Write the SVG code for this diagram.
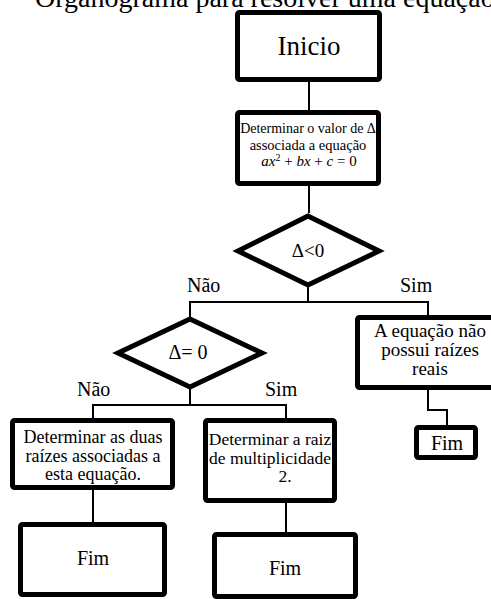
<svg xmlns="http://www.w3.org/2000/svg" width="491" height="599" viewBox="0 0 491 599">
<style>
.box{fill:#fff;stroke:#000;stroke-width:5;stroke-linejoin:round}
.dia{fill:#fff;stroke:#000;stroke-width:5;stroke-linejoin:miter}
.con{fill:none;stroke:#000;stroke-width:2}
text{font-family:"Liberation Serif","Times New Roman",serif;fill:#000}
.c{text-anchor:middle}
.m{font-style:italic}
</style>
<rect width="491" height="599" fill="#fff"/>
<text x="35" y="7" font-size="28">Organograma para resolver uma equação</text>
<g id="connectors">
<polyline class="con" points="309,82 309,110"/>
<polyline class="con" points="309,186 309,213"/>
<polyline class="con" points="308,287 308,302"/>
<polyline class="con" points="190,317 190,302 428,302 428,315"/>
<polyline class="con" points="190,389 190,405"/>
<polyline class="con" points="93,418 93,405 286,405 286,418"/>
<polyline class="con" points="93,490 93,522"/>
<polyline class="con" points="286,503 286,532"/>
<polyline class="con" points="428,390 428,410 447,410 447,425"/>
</g>
<g id="inicio">
<rect class="box" x="237.5" y="12.5" width="142" height="67" rx="2"/>
<text class="c" x="309" y="55" font-size="27">Inicio</text>
</g>
<g id="delta">
<rect class="box" x="237.5" y="112.5" width="141" height="71" rx="2"/>
<text class="c" x="308" y="133" font-size="14">Determinar o valor de Δ</text>
<text class="c" x="308" y="150" font-size="14.5">associada a equação</text>
<text class="c" x="309" y="166" font-size="15"><tspan class="m">ax</tspan><tspan font-size="10" dy="-5">2</tspan><tspan dy="5"> + </tspan><tspan class="m">bx</tspan> + <tspan class="m">c</tspan> = 0</text>
</g>
<g id="d1">
<polygon class="dia" points="308,216 238,251 308,285 379,251"/>
<text class="c" x="308" y="257" font-size="19">Δ&lt;0</text>
</g>
<text x="187" y="292" font-size="20">Não</text>
<text x="400" y="292" font-size="20">Sim</text>
<g id="d2">
<polygon class="dia" points="190,319 118,353 190,387 262,353"/>
<text class="c" x="188" y="359" font-size="20">Δ= 0</text>
</g>
<text x="77" y="396" font-size="20">Não</text>
<text x="265" y="396" font-size="20">Sim</text>
<g id="raizes">
<rect class="box" x="12.5" y="420.5" width="160" height="67" rx="2"/>
<text class="c" x="93" y="443" font-size="18">Determinar as duas</text>
<text class="c" x="93" y="461.5" font-size="18">raízes associadas a</text>
<text class="c" x="93" y="480" font-size="18">esta equação.</text>
</g>
<g id="raiz2">
<rect class="box" x="205.5" y="420.5" width="129" height="80" rx="2"/>
<text class="c" x="270" y="445" font-size="17.5">Determinar a raiz</text>
<text class="c" x="270" y="463.5" font-size="17.5">de multiplicidade</text>
<text class="c" x="285" y="482" font-size="17.5">2.</text>
</g>
<g id="semraizes">
<rect class="box" x="357.5" y="317.5" width="150" height="70" rx="2"/>
<text class="c" x="430" y="337" font-size="19">A equação não</text>
<text class="c" x="430" y="356" font-size="19">possui raízes</text>
<text class="c" x="430" y="375" font-size="19">reais</text>
</g>
<g id="fim1">
<rect class="box" x="20.5" y="524.5" width="144" height="70" rx="2"/>
<text class="c" x="93" y="565" font-size="20">Fim</text>
</g>
<g id="fim2">
<rect class="box" x="214.5" y="534.5" width="141" height="62" rx="2"/>
<text class="c" x="285" y="575" font-size="20">Fim</text>
</g>
<g id="fim3">
<rect class="box" x="416.5" y="427.5" width="59" height="30" rx="2"/>
<text class="c" x="447" y="450" font-size="20">Fim</text>
</g>
</svg>
